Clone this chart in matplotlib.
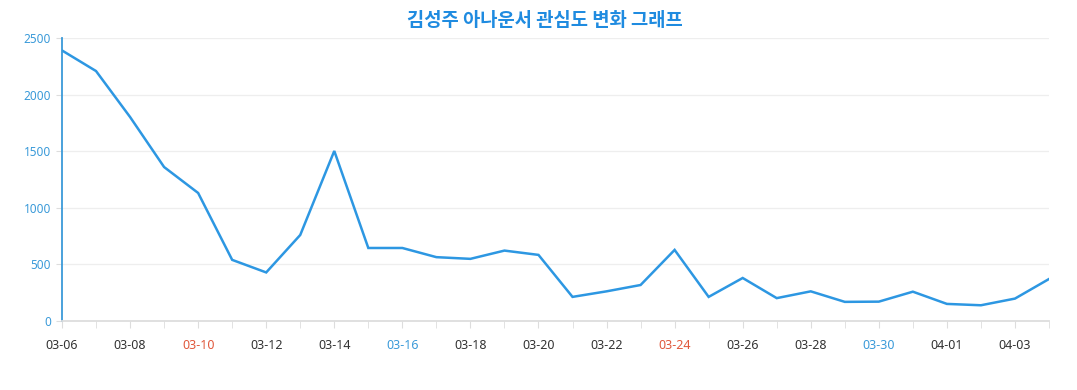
import matplotlib
matplotlib.use("Agg")
import matplotlib.pyplot as plt
import numpy as np

dates = ["03-06","03-07","03-08","03-09","03-10","03-11","03-12","03-13","03-14","03-15",
         "03-16","03-17","03-18","03-19","03-20","03-21","03-22","03-23","03-24","03-25",
         "03-26","03-27","03-28","03-29","03-30","03-31","04-01","04-02","04-03","04-04"]
values = [2390, 2208, 1802, 1360, 1131, 540, 429, 760, 1502, 645,
          645, 564, 549, 622, 584, 213, 262, 318, 628, 213,
          380, 202, 262, 169, 171, 259, 151, 139, 198, 371]
saturdays = ["03-16", "03-30"]
sundays = ["03-10", "03-24"]
yticks = [0, 500, 1000, 1500, 2000, 2500]
title = "김성주 아나운서 관심도 변화 그래프"

plt.rcParams['font.family'] = ['Noto Sans', 'Noto Sans CJK KR', 'DejaVu Sans']

fig = plt.figure(figsize=(10.77, 3.9), dpi=100)
ax = fig.add_axes([62/1077, 1-321/390, (1049-62)/1077, (321-38)/390])

x = np.arange(len(dates))
ax.plot(x, values, color="#2d97e2", lw=1.8, solid_joinstyle="miter")

ax.set_xlim(0, len(dates)-1)
ax.set_ylim(0, 2500)
ax.set_yticks(yticks)
ax.set_yticklabels([str(v) for v in yticks], color="#3a9ad9", fontsize=8.5)
ax.set_xticks(x, minor=True)
ax.set_xticks(x[::2])
ax.set_xticklabels(dates[::2], fontsize=9)
for lab, d in zip(ax.get_xticklabels(), dates[::2]):
    if d in sundays:
        lab.set_color("#e0583c")
    elif d in saturdays:
        lab.set_color("#3a9ad9")
    else:
        lab.set_color("#333333")

ax.grid(axis="y", color="#eeeeee", lw=0.9)
ax.set_axisbelow(True)
for s in ["top", "right"]:
    ax.spines[s].set_visible(False)
ax.spines["left"].set_color("#3a9ad9")
ax.spines["left"].set_linewidth(1.3)
ax.spines["bottom"].set_color("#dddddd")
ax.spines["bottom"].set_linewidth(1.3)
ax.tick_params(axis="x", which="both", length=5, color="#dddddd", pad=8)
ax.tick_params(axis="y", length=4, color="#dddddd", pad=4)

fig.text(545/1077, 1-20/390, title, ha="center", va="center", fontsize=13.5,
         fontweight="bold", color="#1f8be0", family=['Noto Sans CJK KR', 'DejaVu Sans'])

fig.savefig("out.png", dpi=100)
